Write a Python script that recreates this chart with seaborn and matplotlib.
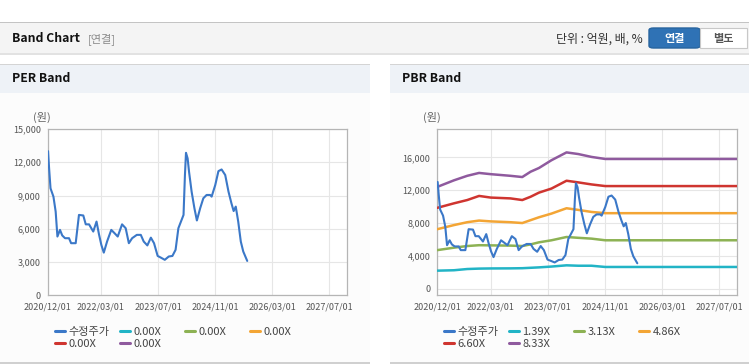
import pandas as pd
import matplotlib.pyplot as plt
import matplotlib.dates as mdates
import seaborn as sns
from matplotlib.patches import Rectangle, FancyBboxPatch
from matplotlib.lines import Line2D
from matplotlib.ticker import FuncFormatter

# adjusted close price (수정주가)
price_dates = [
    "2020-12-04", "2020-12-13", "2020-12-25", "2021-01-19", "2021-02-07", "2021-02-22",
    "2021-03-16", "2021-04-04", "2021-04-28", "2021-06-01", "2021-06-19", "2021-07-28",
    "2021-08-25", "2021-10-01", "2021-10-22", "2021-11-19", "2021-12-25", "2022-01-22",
    "2022-02-12", "2022-03-04", "2022-03-25", "2022-04-22", "2022-05-28", "2022-06-25",
    "2022-07-22", "2022-08-28", "2022-09-28", "2022-10-25", "2022-11-22", "2023-01-01",
    "2023-02-04", "2023-03-01", "2023-04-01", "2023-05-01", "2023-05-28", "2023-06-28",
    "2023-07-25", "2023-08-28", "2023-10-01", "2023-11-01", "2023-11-28", "2023-12-22",
    "2024-01-13", "2024-02-04", "2024-02-16", "2024-02-25", "2024-03-10", "2024-03-22",
    "2024-04-13", "2024-05-07", "2024-05-28", "2024-06-25", "2024-07-22", "2024-08-19",
    "2024-09-19", "2024-10-01", "2024-11-01", "2024-11-28", "2024-12-25", "2025-01-25",
    "2025-02-22", "2025-03-19", "2025-04-07", "2025-04-25", "2025-05-16", "2025-06-07",
    "2025-06-28", "2025-08-01",
]
price = [
    13000, 11450, 9650, 8900, 7550, 5300,
    5900, 5400, 5150, 5150, 4700, 4700,
    7250, 7200, 6400, 6400, 5750, 6650,
    5500, 4550, 3850, 4850, 5900, 5600,
    5300, 6400, 6050, 4700, 5150, 5450,
    5450, 4850, 4500, 5200, 4700, 3550,
    3400, 3200, 3500, 3550, 4100, 6050,
    6650, 7250, 10850, 12850, 12350, 11150,
    9350, 7850, 6750, 7850, 8750, 9050,
    9050, 8900, 9950, 11200, 11350, 10850,
    9350, 8300, 7600, 8000, 6650, 4850,
    3950, 3100,
]

# PBR band lines
band_dates = [
    "2020-12-01", "2021-04-22", "2021-08-13", "2021-11-22", "2022-03-01",
    "2022-08-16", "2022-11-25", "2023-02-04", "2023-04-16", "2023-08-01",
    "2023-12-07", "2024-03-16", "2024-07-07", "2024-11-01", "2027-12-01",
]
pbr_139 = [2200, 2250, 2400, 2450, 2470, 2480, 2500, 2550, 2600, 2700, 2850, 2800, 2800, 2650, 2650]
pbr_313 = [4700, 5000, 5200, 5300, 5280, 5250, 5200, 5400, 5650, 5900, 6300, 6200, 6100, 5900, 5900]
pbr_486 = [7250, 7750, 8100, 8300, 8200, 8100, 8000, 8350, 8700, 9150, 9800, 9600, 9350, 9200, 9200]
pbr_660 = [9850, 10400, 10800, 11300, 11100, 11000, 10800, 11200, 11700, 12200, 13150, 12950, 12700, 12500, 12500]
pbr_833 = [12400, 13200, 13750, 14100, 13950, 13750, 13600, 14250, 14700, 15650, 16600, 16400, 16050, 15800, 15800]

per_labels = ["수정주가", "0.00X", "0.00X", "0.00X", "0.00X", "0.00X"]
pbr_labels = ["수정주가", "1.39X", "3.13X", "4.86X", "6.60X", "8.33X"]
x_ticks = ["2020-12-01", "2022-03-01", "2023-07-01", "2024-11-01", "2026-03-01", "2027-07-01"]
per_yticks = [0, 3000, 6000, 9000, 12000, 15000]
pbr_yticks = [0, 4000, 8000, 12000, 16000]

colors = ["#3b78c8", "#22b4c6", "#8db254", "#f3a535", "#cf3530", "#8f5a9e"]

sns.set_style("white")
plt.rcParams['font.family'] = ['Noto Sans CJK KR', 'DejaVu Sans']

W, H = 749, 364
fig = plt.figure(figsize=(W / 100, H / 100), dpi=100)
fig.patch.set_facecolor("white")


def fx(x):
    return x / W


def fy(y):
    return 1 - y / H


def box(x0, y0, x1, y1, color, z=0):
    fig.add_artist(Rectangle((fx(x0), fy(y1)), (x1 - x0) / W, (y1 - y0) / H,
                             transform=fig.transFigure, facecolor=color,
                             edgecolor="none", zorder=z))


# page header bar
box(0, 22, W, 53, "#f4f4f4")
box(0, 21.5, W, 23, "#c4c4c4")
box(0, 53, W, 55, "#e2e2e2")
fig.text(fx(12), fy(39), "Band Chart", fontsize=8.8, fontweight="bold", va="center", color="#111111")
fig.text(fx(88), fy(39), "[연결]", fontsize=8, va="center", color="#8a8a8a")
fig.text(fx(643), fy(39), "단위 : 억원, 배, %", fontsize=8.6, va="center", ha="right", color="#333333")
fig.add_artist(FancyBboxPatch((fx(649), fy(48)), 51 / W, 20 / H, boxstyle="round,pad=0,rounding_size=0.006",
                              transform=fig.transFigure, facecolor="#2f72b5", edgecolor="#27649f", zorder=1))
fig.add_artist(Rectangle((fx(700), fy(48)), 47 / W, 20 / H, transform=fig.transFigure,
                         facecolor="white", edgecolor="#c8c8c8", lw=0.8, zorder=1))
fig.text(fx(674.5), fy(38.5), "연결", fontsize=8, fontweight="bold", ha="center", va="center", color="white", zorder=2)
fig.text(fx(723.5), fy(38.5), "별도", fontsize=8, fontweight="bold", ha="center", va="center", color="#555555", zorder=2)

# two panels
for x0, x1, title in [(0, 370, "PER Band"), (390, W, "PBR Band")]:
    box(x0, 64, x1, 93, "#eef2f7")
    box(x0, 63.5, x1, 65, "#d4d4d4")
    box(x0, 93, x1, 362, "#fcfcfc")
    box(x0, 362, x1, 364, "#d0d0d0")
    fig.text(fx(x0 + 12), fy(79), title, fontsize=8.8, fontweight="bold", va="center", color="#111111")

price_df = pd.DataFrame({"date": pd.to_datetime(price_dates), "price": price})
band_df = pd.DataFrame({"date": pd.to_datetime(band_dates), "1.39X": pbr_139, "3.13X": pbr_313,
                        "4.86X": pbr_486, "6.60X": pbr_660, "8.33X": pbr_833})

ax1 = fig.add_axes([fx(47.7), fy(295.3), 299.3 / W, 166.3 / H])
ax2 = fig.add_axes([fx(437.3), fy(295.3), 300 / W, 166.3 / H])

sns.lineplot(data=price_df, x="date", y="price", ax=ax1, color=colors[0], lw=1.5, zorder=5)

for col, c in zip(["1.39X", "3.13X", "4.86X", "6.60X", "8.33X"], colors[1:]):
    sns.lineplot(data=band_df, x="date", y=col, ax=ax2, color=c, lw=1.8, zorder=3)
sns.lineplot(data=price_df, x="date", y="price", ax=ax2, color=colors[0], lw=1.5, zorder=5)

ax1.set_ylim(0, 15000)
ax1.set_yticks(per_yticks)
ax2.set_ylim(-800, 19450)
ax2.set_yticks(pbr_yticks)

for ax in (ax1, ax2):
    ax.set_facecolor("white")
    ax.set_xlim(pd.Timestamp("2020-12-01"), pd.Timestamp("2027-12-01"))
    ax.set_xticks(pd.to_datetime(x_ticks))
    ax.xaxis.set_major_formatter(mdates.DateFormatter("%Y/%m/%d"))
    ax.yaxis.set_major_formatter(FuncFormatter(lambda v, p: f"{v:,.0f}"))
    ax.grid(True, color="#e6e6e6", lw=0.8)
    ax.set_axisbelow(True)
    for s in ax.spines.values():
        s.set_color("#b5b5b5")
        s.set_linewidth(0.9)
    ax.tick_params(axis="both", length=3, width=0.7, color="#b5b5b5", labelsize=6.5,
                   labelcolor="#555555", pad=2)
    ax.set_xlabel("")
    ax.set_ylabel("")
    ax.text(-0.018, 1.07, "(원)", transform=ax.transAxes, fontsize=8, color="#666666",
            ha="center", va="center")


def column_legends(labels, x_start):
    handles = [Line2D([], [], color=c, lw=2.2) for c in colors]
    for i in range(4):
        idx = [i, i + 4] if i + 4 < len(labels) else [i]
        fig.legend([handles[j] for j in idx], [labels[j] for j in idx],
                   loc="upper left", bbox_to_anchor=(fx(x_start + 65 * i - 4), fy(321)),
                   frameon=False, fontsize=8, handlelength=0.9, handletextpad=0.35,
                   labelspacing=0.25, borderpad=0, labelcolor="#444444")


column_legends(per_labels, 53)
column_legends(pbr_labels, 442)

plt.savefig("out.png", dpi=100)
plt.close()
